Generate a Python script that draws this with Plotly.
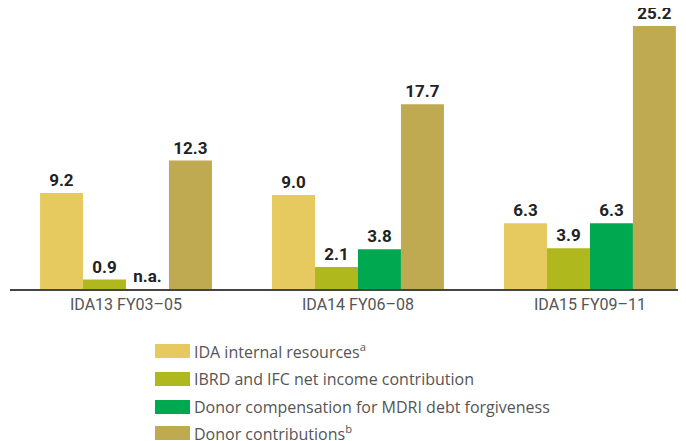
import plotly.graph_objects as go

categories = ["IDA13 FY03–05", "IDA14 FY06–08", "IDA15 FY09–11"]
series_names = [
    "IDA internal resources<sup>a</sup>",
    "IBRD and IFC net income contribution",
    "Donor compensation for MDRI debt forgiveness",
    "Donor contributions<sup>b</sup>",
]
ida_internal = [9.2, 9.0, 6.3]
ibrd_ifc = [0.9, 2.1, 3.9]
mdri = [None, 3.8, 6.3]
donor = [12.3, 17.7, 25.2]
colors = ["#E6C95F", "#AFB91E", "#00A84F", "#BFAA52"]

series = [ida_internal, ibrd_ifc, mdri, donor]

# page has an 8px body margin; figure coordinates are page minus 8
OFF = 8
W, H = 686 - OFF, 441 - OFF
L, R, T = 10 - OFF, 0, 0
baseline = 289 - OFF
B = H - baseline
pw, ph = W - L - R, baseline - T

fig = go.Figure()
for name, vals, col in zip(series_names, series, colors):
    yv = [v if v is not None else 0 for v in vals]
    txt = [f"{v:.1f}" if v is not None else "n.a." for v in vals]
    fig.add_trace(go.Bar(
        x=categories, y=yv, name=name, marker=dict(color=col, line=dict(width=0)),
        text=txt, textposition="outside", cliponaxis=False,
        textfont=dict(family="Roboto", size=17, color="#222222", weight="bold"),
        showlegend=False,
    ))

# manual legend (page pixel rows)
row_px = [351, 379, 407, 433]
for name, col, py in zip(series_names, colors, row_px):
    py -= OFF
    x0 = (155 - OFF - L) / pw
    x1 = (190 - OFF - L) / pw
    y0 = (ph - (py + 7)) / ph
    y1 = (ph - (py - 7)) / ph
    fig.add_shape(type="rect", xref="paper", yref="paper", x0=x0, x1=x1, y0=y0, y1=y1,
                  fillcolor=col, line=dict(width=0))
    fig.add_annotation(xref="paper", yref="paper", x=(192 - OFF - L) / pw, y=(ph - py) / ph,
                       text=name, showarrow=False, xanchor="left", yanchor="middle",
                       font=dict(family="Open Sans", size=16, color="#555555"))

fig.update_layout(
    width=W, height=H, margin=dict(l=L, r=R, t=T, b=B, autoexpand=False),
    paper_bgcolor="white", plot_bgcolor="white",
    barmode="group", bargap=0.259, bargroupgap=0,
)
fig.update_xaxes(range=[-0.5, 2.414], showline=True, linecolor="#444444", linewidth=1.5,
                 ticks="", showgrid=False, zeroline=False, automargin=False,
                 tickfont=dict(family="Roboto", size=16, color="#555555"))
fig.update_yaxes(range=[0, ph / 10.44], visible=False, showgrid=False, zeroline=False)

fig.write_html("out.html")
